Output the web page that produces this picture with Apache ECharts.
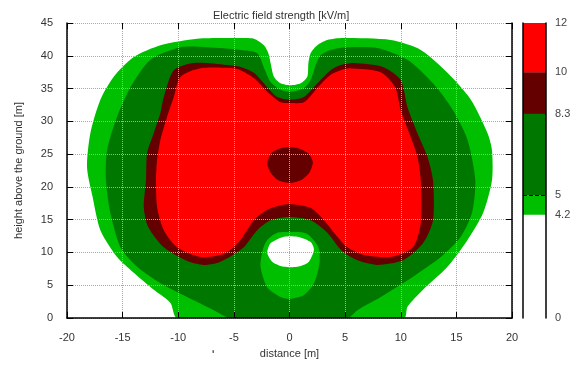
<!DOCTYPE html>
<html>
<head>
<meta charset="utf-8">
<script src="https://cdn.jsdelivr.net/npm/echarts@6/dist/echarts.min.js"></script>
<style>
  html, body { margin: 0; padding: 0; background: #fff; }
  #chart { width: 584px; height: 367px; }
</style>
</head>
<body>
<div id="chart"></div>
<script>
// contour levels of the field strength [kV/m] and the colour of each band
var levels = [0, 4.2, 5, 8.3, 10, 12]
var levelColors = ['#ffffff', '#00be00', '#007800', '#640000', '#ff0000']

var xTicks = [-20, 20, 5]
var yTicks = [0, 45, 5]

// boundary of each filled region, [distance m, height m]
var outer42 = [[-10.1, 0], [-10.7, 2.3], [-12.2, 4.3], [-14, 6.9], [-15.5, 9.3], [-17, 13.4], [-17.7, 18.5],
  [-18.2, 23], [-17.9, 28.2], [-17, 33.3], [-15.8, 36.8], [-14, 39.8], [-11.6, 41.6], [-8.3, 42.6],
  [-4.4, 42.7], [-3.2, 42.6], [-2.3, 41.6], [-1.9, 40.4], [-1.7, 38.9], [-1.4, 36.8], [-0.8, 35.8],
  [0.1, 35.5], [1, 35.8], [1.6, 36.8], [1.7, 38.9], [1.9, 40.4], [2.5, 41.6], [3.4, 42.4], [4.8, 42.7],
  [9.1, 42.4], [11.8, 40.9], [14.2, 37.4], [16.3, 33.3], [17.8, 28.2], [18.2, 25.6], [18.2, 21],
  [17.4, 16], [16, 11.9], [14.2, 7.8], [12, 4.3], [10.6, 1.7], [10.3, 0]]
var band5 = [[-5.3, 0], [-6.8, 1.2], [-9.2, 3.2], [-11.6, 5.3], [-13.7, 7.8], [-15.2, 10.8], [-16.1, 16],
  [-16.5, 21], [-16.4, 25.6], [-15.5, 30.7], [-14.3, 35.2], [-12.5, 39.4], [-9.8, 41.3], [-7.4, 41.3],
  [-4.4, 40.9], [-2.9, 40.4], [-2.2, 37.8], [-1.7, 36], [-0.8, 34.8], [0.1, 34.5], [1.3, 35.1],
  [1.9, 36.3], [2.3, 38.3], [2.8, 40.1], [3.7, 40.9], [5.2, 41.3], [7.9, 41.2], [10.6, 39.4],
  [12.9, 35.8], [14.7, 31.7], [16, 27.2], [16.7, 21], [16.4, 16], [15.4, 12.4], [13.6, 9.3],
  [11.1, 6.3], [8.2, 3.2], [6.1, 1.2], [5.2, 0]]
var band83 = [[-12.9, 21], [-12.8, 25.2], [-12.2, 28.2], [-11.6, 31.3], [-11.3, 33.7], [-10.4, 37.8],
  [-8.6, 38.9], [-5.6, 38.6], [-4.4, 38.3], [-3.2, 37.4], [-2, 35.2], [-1.1, 33.7], [0.1, 33.3],
  [1.3, 33.7], [2.5, 35.8], [3.7, 37.8], [4.6, 38.6], [5.8, 38.9], [8.4, 38.3], [10, 36.3],
  [10.6, 32.2], [11.5, 28.2], [12.4, 24.6], [12.9, 21], [12.9, 14.9], [12, 11.4], [10.2, 8.8],
  [7.9, 8.1], [6.1, 8.8], [5.2, 9.6], [4.6, 10.4], [3.4, 13], [1.9, 14.9], [0, 15.4], [-1.7, 14.9],
  [-2.9, 13.4], [-4.1, 10.8], [-5.3, 9.4], [-6.5, 8.4], [-7.7, 8.1], [-9.2, 8.7], [-11.3, 10.8],
  [-12.7, 13.9], [-13.1, 16.9]]
var band10 = [[-12, 21], [-11.9, 24.1], [-11.6, 27.2], [-11, 30.7], [-10.4, 33.7], [-9.8, 36.8], [-8, 38.1],
  [-5, 38.1], [-4.4, 37.8], [-3.2, 36.6], [-2, 34.5], [-0.8, 32.9], [0.1, 32.8], [1.3, 32.9],
  [2.5, 35.1], [3.7, 37.1], [4.6, 37.8], [5.4, 38.1], [8.2, 37.5], [9.5, 35.2], [10, 31.7],
  [10.9, 27.6], [11.5, 24.6], [11.8, 21], [11.8, 14.5], [11.1, 10.8], [9.1, 9.3], [6.7, 9.6],
  [5.2, 10.8], [4.3, 12.4], [3.1, 14.9], [1.9, 16.8], [0, 17.4], [-0.8, 17.2], [-2, 16.5],
  [-3.2, 14.9], [-4.4, 11.9], [-5.3, 10.4], [-6.2, 9.6], [-8, 9.3], [-10.1, 10.8], [-11.3, 13.4],
  [-11.9, 16.9]]
var centreSpot = [[-2, 23.6], [-1.6, 25.2], [-0.8, 25.9], [0, 26.1], [0.8, 25.9], [1.7, 25.1], [2.1, 23.8],
  [1.8, 22.2], [1, 21], [0, 20.6], [-1, 21], [-1.7, 22.2]]
var lowBlob = [[0, 13.1], [1.3, 13], [1.9, 12.4], [2.6, 10.8], [2.7, 8.4], [2.2, 5.3], [1.3, 3.5], [0, 2.9],
  [-0.8, 3.2], [-2, 4.7], [-2.6, 7.8], [-2.4, 10.4], [-2, 11.9], [-1.1, 13]]
var lowHole = [[-0.5, 12.4], [0.7, 12.4], [1.9, 11.6], [2.2, 10.4], [1.7, 8.5], [0.7, 7.8], [-0.5, 7.8],
  [-1.5, 8.5], [-2, 9.9], [-1.7, 11.4]]

var regions = [
  { pts: outer42, color: levelColors[1] },
  { pts: band5, color: levelColors[2] },
  { pts: band83, color: levelColors[3] },
  { pts: band10, color: levelColors[4] },
  { pts: centreSpot, color: levelColors[3] },
  { pts: lowBlob, color: levelColors[1] },
  { pts: lowHole, color: levelColors[0] }
]

var font = 'Liberation Sans, Arial, sans-serif'
var chart = echarts.init(document.getElementById('chart'), null, { renderer: 'canvas' })

var series = regions.map(function (r) {
  return {
    type: 'custom',
    xAxisIndex: 0,
    yAxisIndex: 0,
    silent: true,
    clip: true,
    data: [[0, 0]],
    renderItem: function (params, api) {
      var points = r.pts.map(function (p) {
        return api.coord(p)
      })
      return {
        type: 'polygon',
        shape: { points: points, smooth: 0.25 },
        style: { fill: r.color }
      }
    }
  }
})

// empty series so the mirrored top / right axes get drawn
series.push({ type: 'line', xAxisIndex: 1, yAxisIndex: 1, silent: true, showSymbol: false, data: [] })

// colour bar = stacked bar of the band widths
for (var i = 0; i < levels.length - 1; i++) {
  var s = {
    type: 'bar',
    xAxisIndex: 2,
    yAxisIndex: 2,
    stack: 'bar',
    silent: true,
    barWidth: '100%',
    itemStyle: { color: levelColors[i] },
    data: [levels[i + 1] - levels[i]]
  }
  if (i === 1) {
    s.markLine = {
      silent: true,
      symbol: 'none',
      label: { show: false },
      lineStyle: { color: '#000', type: 'dashed', width: 1 },
      data: [{ yAxis: levels[2] }]
    }
  }
  series.push(s)
}

function ticks() {
  return { show: true, inside: true, length: 6, lineStyle: { color: '#000' } }
}
function blackLine() {
  return { show: true, onZero: false, lineStyle: { color: '#000', width: 1.5 } }
}
var split = { show: true, lineStyle: { color: '#aaa', type: 'dotted', width: 1 } }

chart.setOption({
  animation: false,
  backgroundColor: '#fff',
  title: {
    text: 'Electric field strength [kV/m]',
    left: 208,
    top: 5,
    textStyle: { fontFamily: font, fontSize: 11, fontWeight: 'normal', color: '#333' }
  },
  grid: [
    { left: 67, right: 72, top: 23, bottom: 49 },
    { left: 523, width: 23, top: 23, bottom: 49 }
  ],
  xAxis: [
    {
      gridIndex: 0, type: 'value', min: xTicks[0], max: xTicks[1], interval: xTicks[2], position: 'bottom', z: 10,
      name: 'distance [m]', nameLocation: 'middle', nameGap: 30,
      nameTextStyle: { fontFamily: font, fontSize: 11, color: '#333' },
      axisLine: blackLine(),
      axisTick: ticks(),
      axisLabel: { margin: 14, fontFamily: font, fontSize: 11, color: '#333' },
      splitLine: split
    },
    {
      gridIndex: 0, type: 'value', min: xTicks[0], max: xTicks[1], interval: xTicks[2], position: 'top', z: 10,
      axisLine: { show: false, onZero: false }, axisTick: ticks(), axisLabel: { show: false }, splitLine: { show: false }
    },
    { gridIndex: 1, type: 'category', data: [''], show: false }
  ],
  yAxis: [
    {
      gridIndex: 0, type: 'value', min: yTicks[0], max: yTicks[1], interval: yTicks[2], position: 'left', z: 10,
      name: 'height above the ground [m]', nameLocation: 'middle', nameGap: 43,
      nameTextStyle: { fontFamily: font, fontSize: 11, color: '#333' },
      axisLine: blackLine(),
      axisTick: ticks(),
      axisLabel: { margin: 14, fontFamily: font, fontSize: 11, color: '#333' },
      splitLine: split
    },
    {
      gridIndex: 0, type: 'value', min: yTicks[0], max: yTicks[1], interval: yTicks[2], position: 'right', z: 10,
      axisLine: blackLine(),
      axisTick: ticks(), axisLabel: { show: false }, splitLine: { show: false }
    },
    {
      gridIndex: 1, type: 'value', min: levels[0], max: levels[levels.length - 1], position: 'right', z: 10,
      axisLine: blackLine(),
      axisTick: { show: false },
      axisLabel: { customValues: levels, margin: 9, fontFamily: font, fontSize: 11, color: '#444' },
      splitLine: { show: false }
    },
    {
      gridIndex: 1, type: 'value', min: levels[0], max: levels[levels.length - 1], position: 'left', z: 10,
      axisLine: blackLine(),
      axisTick: { show: false }, axisLabel: { show: false }, splitLine: { show: false }
    }
  ],
  graphic: [
    { type: 'text', left: 212, top: 350, style: { text: 'ʹ', font: '12px ' + font, fill: '#000' } }
  ],
  series: series
})
</script>
</body>
</html>
